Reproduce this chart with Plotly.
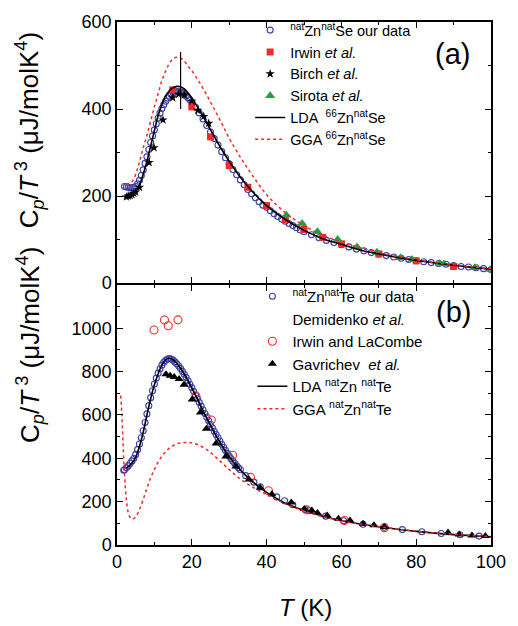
import plotly.graph_objects as go

# ---------------- Panel (a): ZnSe ----------------
znse_T = [2.0, 2.5, 3.0, 3.5, 4.0, 4.5, 5.0, 5.5, 6.0, 6.5, 7.0, 7.5, 8.0, 8.5, 9.0, 9.5,
          10.0, 10.5, 11.0, 11.5, 12.0, 12.5, 13.0, 13.5, 14.0, 14.5, 15.0, 15.5, 16.0, 16.5,
          17.0, 17.5, 18.0, 18.5, 19.0, 19.5, 20.0, 21, 22, 23, 24, 25, 26, 27, 28, 29, 30,
          31, 32, 33, 34, 35, 36, 37, 38, 39, 40, 41, 42, 43, 44, 45, 46, 47, 48, 49, 50,
          52, 54, 56, 58, 60, 62, 64, 66, 68, 70, 72, 74, 76, 78, 80, 82, 84, 86, 88, 90,
          92, 94, 96, 98, 100]
znse_C = [222, 221, 220, 219, 219, 220, 222, 228, 236, 247, 260, 275, 290, 307, 323, 338,
          352, 366, 379, 391, 401, 410, 418, 425, 430, 434, 437, 439, 440, 440,
          439, 437, 434, 430, 426, 421, 416, 404, 391, 377, 362, 347, 332, 317, 302, 288, 274,
          261, 249, 237, 226, 215, 205, 196, 187, 179, 174, 166, 159, 153, 147, 142, 137, 132, 127, 122, 118,
          111, 104, 98, 93, 88, 83, 78, 74, 70, 66, 63, 60, 57, 54, 51, 49, 47, 45, 43, 40,
          38, 37, 35, 33, 31]

irwin_T = [14.9, 20.0, 25.0, 30.0, 35.0, 40.0, 45.0, 50.0, 55.0, 60.0, 70.0, 80.0, 90.0]
irwin_C = [444, 405, 336, 270, 220, 178, 146, 123, 105, 90, 67, 51, 38]

birch_T = [2.5, 3.0, 3.5, 4.0, 4.5, 5.0, 6.0, 8.6, 9.9, 12.3, 14.9, 16.5, 18.0, 20.0, 21.6, 23.2, 24.5]
birch_C = [198, 200, 201, 203, 206, 209, 220, 277, 311, 375, 426, 434, 432, 418, 397, 383, 367]

sirota_T = [45.3, 49.5, 53.6, 59.0, 64.2, 69.5, 75.8, 78.9, 86.3, 87.4, 95.7, 100.0]
sirota_C = [156, 137, 118, 100, 83, 71, 58, 54, 45, 44, 35, 31]

lda_se_T = [2.5, 4, 5, 6, 7, 8, 9, 10, 11, 12, 13, 14, 15, 16, 17, 18, 19, 20, 22, 24, 26, 28,
            30, 33, 36, 40, 45, 50, 55, 60, 65, 70, 75, 80, 85, 90, 95, 100]
lda_se_C = [197, 202, 210, 225, 250, 280, 315, 350, 385, 410, 430, 442, 449, 452, 451, 446, 437,
            425, 398, 368, 337, 307, 280, 243, 212, 178, 146, 121, 102, 89, 76, 67, 59, 52, 46, 41, 36, 32]

gga_se_T = [2.5, 4, 5, 6, 7, 8, 9, 10, 11, 12, 13, 14, 15, 16, 17, 18, 19, 20, 22, 24, 26, 28,
            30, 33, 36, 40, 45, 50, 55, 60, 65, 70, 75, 80, 85, 90, 95, 100]
gga_se_C = [226, 233, 250, 278, 310, 340, 372, 405, 435, 465, 487, 505, 515, 519, 517, 510, 498,
            488, 462, 432, 400, 367, 333, 289, 250, 203, 162, 132, 110, 94, 81, 70, 61, 54, 47, 42, 37, 33]

bar_T = [17, 17]
bar_C = [400, 531]

# ---------------- Panel (b): ZnTe ----------------
znte_T = [1.8, 2.0, 2.5, 3.0, 3.5, 4.0, 4.5, 5.0, 5.5, 6.0, 6.5, 7.0, 7.5, 8.0, 8.5, 9.0, 9.5,
          10.0, 10.5, 11.0, 11.5, 12.0, 12.5, 13.0, 13.5, 14.0, 14.5, 15.0, 15.5, 16.0, 16.5,
          17.0, 17.5, 18.0, 18.5, 19.0, 19.5, 20.0, 20.5, 21.0, 21.5, 22.0, 22.5, 23.0, 23.5,
          24.0, 24.5, 25.0, 25.5, 26.0, 26.5, 27.0, 27.5, 28.0, 28.5, 29.0, 29.5, 30.0, 30.5,
          31.0, 31.5, 32.0, 32.5, 33.0,
          34.4, 36.6, 38.3, 42.7, 44.8, 47.0, 50.3, 51.4, 55.8, 60.6, 65.8, 71.5, 76.3, 81.5,
          86.7, 91.7, 96.8]
znte_C = [345, 347, 356, 365, 376, 388, 400, 418, 440, 466, 495, 527, 565, 605, 643, 680, 712,
          743, 770, 793, 813, 830, 843, 852, 858, 860, 858, 853, 845, 836, 826,
          814, 801, 788, 773, 758, 742, 726, 709, 692, 675, 658, 641, 624, 607,
          590, 573, 557, 541, 525, 510, 495, 480, 465, 451, 437, 423, 410, 398,
          387, 376, 366, 356, 347,
          320, 290, 268, 222, 204, 186, 164, 158, 133, 112, 96, 82, 71, 61,
          53, 47, 41]

lacombe_T = [9.9, 12.7, 13.7, 16.3, 21.1, 25.2, 30.9, 35.7, 40.5, 50.7, 60.8, 71.5]
lacombe_C = [992, 1038, 1012, 1039, 687, 577, 414, 312, 250, 162, 113, 80]

gavr_T = [13.1, 14.2, 15.3, 16.6, 17.9, 20.1, 22.3, 23.9, 26.5, 29.1, 31.8, 35.3, 38.3, 41.4,
          46.6, 50.1, 52.1, 53.6, 56.2, 59.2, 62.3, 65.8, 68.7, 71.5, 88.5, 91.5, 94.9, 98.5]
gavr_C = [788, 781, 775, 766, 740, 672, 612, 536, 468, 408, 362, 302, 264, 234,
          196, 166, 159, 148, 136, 121, 113, 98, 91, 83, 58, 49, 44, 42]

lda_te_T = [2.4, 3, 4, 5, 6, 7, 8, 9, 10, 11, 12, 13, 14, 15, 16, 17, 18, 20, 22, 24, 26, 28,
            30, 32, 34, 36, 38, 40, 45, 50, 55, 60, 65, 70, 75, 80, 85, 90, 95, 100]
lda_te_C = [355, 362, 378, 405, 455, 520, 600, 675, 740, 790, 830, 855, 862, 855, 838, 815, 788,
            725, 655, 585, 520, 460, 408, 365, 328, 296, 268, 243, 193, 160, 133, 113, 97, 84,
            73, 63, 55, 48, 43, 38]

gga_te_T = [1.0, 1.3, 1.6, 2.0, 2.5, 3.0, 3.5, 4.0, 4.5, 5.0, 6.0, 7.0, 8.0, 9.0, 10.0, 11.0,
            12.0, 13.0, 14.0, 15.0, 16.0, 17.0, 18.0, 19.0, 20.0, 22.0, 24.0, 26.0, 28.0, 30.0,
            32.0, 34.0, 36.0, 38.0, 40.0, 45.0, 50.0, 55.0, 60.0, 65.0, 70.0, 75.0, 80.0, 85.0,
            90.0, 95.0, 100.0]
gga_te_C = [690, 600, 480, 330, 210, 150, 128, 120, 122, 130, 163, 210, 262, 310, 348, 382,
            410, 430, 447, 459, 467, 471, 473, 473, 471, 460, 440, 412, 380, 348,
            318, 292, 270, 250, 233, 190, 157, 131, 112, 97, 85, 74, 64, 56,
            50, 44, 39]

x_ticks = [0, 20, 40, 60, 80, 100]

BLUE = "#3c40a6"
RED = "#ee2a2a"
GREEN = "#1ea33c"
FONT = "Liberation Sans, Arial, sans-serif"

fig = go.Figure()

# panel (a)
fig.add_trace(go.Scatter(x=znse_T, y=znse_C, mode="markers", xaxis="x", yaxis="y",
                         name="<sup>nat</sup>Zn<sup>nat</sup>Se our data",
                         marker=dict(symbol="circle-open", size=6, color=BLUE, line=dict(width=1.1, color=BLUE)),
                         legend="legend"))
fig.add_trace(go.Scatter(x=irwin_T, y=irwin_C, mode="markers", xaxis="x", yaxis="y",
                         name="Irwin <i>et al.</i>",
                         marker=dict(symbol="square", size=7, color=RED), legend="legend"))
fig.add_trace(go.Scatter(x=birch_T, y=birch_C, mode="markers", xaxis="x", yaxis="y",
                         name="Birch <i>et al.</i>",
                         marker=dict(symbol="star", size=7, color="black"), legend="legend"))
fig.add_trace(go.Scatter(x=sirota_T, y=sirota_C, mode="markers", xaxis="x", yaxis="y",
                         name="Sirota <i>et al.</i>",
                         marker=dict(symbol="triangle-up", size=9, color=GREEN), legend="legend"))
fig.add_trace(go.Scatter(x=lda_se_T, y=lda_se_C, mode="lines", xaxis="x", yaxis="y",
                         name="LDA  <sup>66</sup>Zn<sup>nat</sup>Se", line=dict(color="black", width=1.6, shape="spline"),
                         legend="legend"))
fig.add_trace(go.Scatter(x=gga_se_T, y=gga_se_C, mode="lines", xaxis="x", yaxis="y",
                         name="GGA <sup>66</sup>Zn<sup>nat</sup>Se",
                         line=dict(color=RED, width=1.5, dash="dot", shape="spline"), legend="legend"))
fig.add_trace(go.Scatter(x=bar_T, y=bar_C, mode="lines", xaxis="x", yaxis="y", showlegend=False,
                         line=dict(color="black", width=1.2)))

# panel (b)
fig.add_trace(go.Scatter(x=znte_T, y=znte_C, mode="markers", xaxis="x2", yaxis="y2",
                         name="<sup>nat</sup>Zn<sup>nat</sup>Te our data",
                         marker=dict(symbol="circle-open", size=6, color=BLUE, line=dict(width=1.1, color=BLUE)),
                         legend="legend2"))
fig.add_trace(go.Scatter(x=[None], y=[None], mode="markers", xaxis="x2", yaxis="y2",
                         name="Demidenko <i>et al.</i>",
                         marker=dict(size=1, color="rgba(0,0,0,0)"), legend="legend2"))
fig.add_trace(go.Scatter(x=lacombe_T, y=lacombe_C, mode="markers", xaxis="x2", yaxis="y2",
                         name="Irwin and LaCombe",
                         marker=dict(symbol="circle-open", size=8, color=RED, line=dict(width=1.1, color=RED)),
                         legend="legend2"))
fig.add_trace(go.Scatter(x=gavr_T, y=gavr_C, mode="markers", xaxis="x2", yaxis="y2",
                         name="Gavrichev  <i>et al.</i>",
                         marker=dict(symbol="triangle-up", size=8, color="black"), legend="legend2"))
fig.add_trace(go.Scatter(x=lda_te_T, y=lda_te_C, mode="lines", xaxis="x2", yaxis="y2",
                         name="LDA <sup>nat</sup>Zn <sup>nat</sup>Te",
                         line=dict(color="black", width=1.6, shape="spline"), legend="legend2"))
fig.add_trace(go.Scatter(x=gga_te_T, y=gga_te_C, mode="lines", xaxis="x2", yaxis="y2",
                         name="GGA <sup>nat</sup>Zn<sup>nat</sup>Te",
                         line=dict(color=RED, width=1.5, dash="dot", shape="spline"), legend="legend2"))

axis_common = dict(showline=True, linecolor="black", linewidth=1.5, mirror="ticks",
                   ticks="inside", ticklen=6, tickwidth=1.3, tickcolor="black",
                   showgrid=False, zeroline=False,
                   tickfont=dict(family=FONT, size=18, color="black"))
minor_common = dict(ticklen=3.5, tickwidth=1.2, ticks="inside", tickcolor="black")

fig.update_layout(
    width=518, height=626,
    margin=dict(l=117, r=19, t=14, b=81),
    paper_bgcolor="white", plot_bgcolor="white",
    font=dict(family=FONT, color="black"),
    xaxis=dict(domain=[0, 1], anchor="y", range=[0, 100], tickvals=x_ticks, showticklabels=False,
               minor=dict(dtick=10, **minor_common), **axis_common),
    yaxis=dict(domain=[0.5009, 1], anchor="x", range=[0, 600], dtick=200,
               minor=dict(dtick=100, **minor_common), **axis_common),
    xaxis2=dict(domain=[0, 1], anchor="y2", range=[0, 100], tickvals=x_ticks,
                minor=dict(dtick=10, **minor_common), **axis_common),
    yaxis2=dict(domain=[0, 0.4972], anchor="x2", range=[0, 1200], tickvals=[0, 200, 400, 600, 800, 1000],
                minor=dict(dtick=100, **minor_common), **axis_common),
    legend=dict(x=0.356, y=1.015, xanchor="left", yanchor="top", bgcolor="rgba(0,0,0,0)",
                font=dict(family=FONT, size=14.5, color="black"), tracegroupgap=0, itemwidth=30),
    legend2=dict(x=0.362, y=0.5066, xanchor="left", yanchor="top", bgcolor="rgba(0,0,0,0)",
                 font=dict(family=FONT, size=15, color="black"), tracegroupgap=0, itemwidth=30),
    showlegend=True,
)

ytitle = "C<sub><i>p</i></sub>/<i>T</i><sup> 3</sup> (μJ/molK<sup>4</sup>)"
ann = dict(xref="paper", yref="paper", showarrow=False, xanchor="center", yanchor="middle")
fig.add_annotation(text=ytitle, x=-0.233, y=0.7928, textangle=-90,
                   font=dict(family=FONT, size=26, color="black"), **ann)
fig.add_annotation(text=ytitle, x=-0.233, y=0.3823, textangle=-90,
                   font=dict(family=FONT, size=26, color="black"), **ann)
fig.add_annotation(text="<i>T</i> (K)", x=0.505, y=-0.1186,
                   font=dict(family=FONT, size=24, color="black"), **ann)
fig.add_annotation(text="(a)", x=0.898, y=0.9397,
                   font=dict(family=FONT, size=29, color="black"), **ann)
fig.add_annotation(text="(b)", x=0.9005, y=0.4463,
                   font=dict(family=FONT, size=29, color="black"), **ann)

fig.write_html("out.html")
